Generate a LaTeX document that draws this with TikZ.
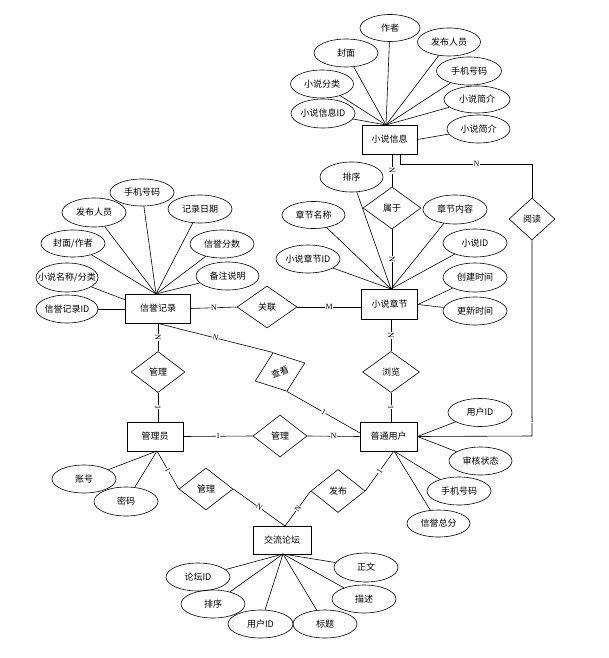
\documentclass[tikz,border=0pt]{standalone}
\usepackage{fontspec}
\setmainfont{Noto Sans CJK SC}
\newfontfamily\lblfont{Liberation Serif}
\usetikzlibrary{shapes.geometric}
\newcommand\zw[1]{\makebox[0pt]{#1}}
\begin{document}
\begin{tikzpicture}[x=1pt,y=-1pt,
  every node/.style={font=\fontsize{9}{10}\selectfont},
  ent/.style={draw,line width=0.9pt,rectangle,minimum height=29pt,inner sep=0pt},
  attr/.style={draw,line width=0.6pt,ellipse,minimum width=64pt,minimum height=28pt,inner sep=0pt},
  rel/.style={draw,line width=0.6pt,diamond,minimum width=56pt,minimum height=42pt,inner sep=0pt},
  conn/.style={line width=0.6pt},
  lbl/.style={font=\lblfont\fontsize{8}{8}\selectfont,fill=white,inner sep=0.3pt,sloped}
]
\useasboundingbox (0,0) rectangle (609,658);
% entities
\node[ent,minimum width=55pt] (xsxx) at (389.5,139.5) {\zw{小说信息}};
\node[ent,minimum width=56pt,minimum height=30pt] (xszj) at (389.5,304.5) {\zw{小说章节}};
\node[ent,minimum width=65pt] (xyjl) at (158,308.5) {\zw{信誉记录}};
\node[ent,minimum width=56pt] (gly) at (155,436.5) {\zw{管理员}};
\node[ent,minimum width=57pt] (ptyh) at (388.5,436.5) {\zw{普通用户}};
\node[ent,minimum width=58pt,minimum height=28pt] (jlt) at (282,540) {\zw{交流论坛}};
% relations
\node[rel,minimum width=58pt] (sy) at (392,208) {\zw{属于}};
\node[rel,minimum width=46pt] (yd) at (532,219) {\zw{阅读}};
\node[rel,minimum width=60pt] (gl) at (267,307) {\zw{关联}};
\node[rel,minimum width=57pt,minimum height=41pt] (ll) at (391,372) {\zw{浏览}};
\node[rel,minimum width=54pt,minimum height=41pt] (glA) at (158,372) {\zw{管理}};
\node[rel,minimum width=53pt,minimum height=41pt,rotate=20] (ck) at (280,372) {\zw{查看}};
\node[rel,minimum width=54pt] (glB) at (280,436) {\zw{管理}};
\node[rel,minimum width=54pt,minimum height=43pt] (fb) at (338,491) {\zw{发布}};
\node[rel,minimum width=54pt] (glC) at (206,489) {\zw{管理}};
% attributes of 小说信息
\node[attr,minimum width=60pt,minimum height=27pt] (a1) at (390,28) {\zw{作者}};
\node[attr,minimum width=63pt] (a2) at (449,42) {\zw{发布人员}};
\node[attr] (a3) at (346,53) {\zw{封面}};
\node[attr,minimum width=65pt] (a4) at (469,71) {\zw{手机号码}};
\node[attr,minimum width=63pt] (a5) at (322,84) {\zw{小说分类}};
\node[attr,minimum width=66pt,minimum height=27pt] (a6) at (477,99.5) {\zw{小说简介}};
\node[attr,minimum height=29pt] (a7) at (323,113.5) {\zw{小说信息ID}};
\node[attr,minimum width=63pt] (a8) at (478.5,129) {\zw{小说简介}};
\coordinate (c1) at (386,125);
\foreach \a in {a1,a2,a3,a4,a5,a6,a7} \draw[conn] (\a) -- (c1);
\draw[conn] (xsxx.east) -- (a8);
% attributes of 小说章节
\node[attr,minimum width=63pt,minimum height=30pt] (b1) at (351.5,177) {\zw{排序}};
\node[attr,minimum width=63pt,minimum height=27pt] (b2) at (313.5,215) {\zw{章节名称}};
\node[attr,minimum height=29pt] (b3) at (455,209.5) {\zw{章节内容}};
\node[attr] (b4) at (475,243) {\zw{小说ID}};
\node[attr] (b5) at (308,259) {\zw{小说章节ID}};
\node[attr,minimum height=29pt] (b6) at (475,277.5) {\zw{创建时间}};
\node[attr] (b7) at (475,311) {\zw{更新时间}};
\coordinate (c2) at (391,289);
\foreach \a in {b1,b2,b3,b4,b5} \draw[conn] (\a) -- (c2);
\foreach \a in {b6,b7} \draw[conn] (xszj.east) -- (\a);
% attributes of 信誉记录
\node[attr,minimum height=27pt] (d1) at (142,192.5) {\zw{手机号码}};
\node[attr,minimum height=29pt] (d2) at (94,212.5) {\zw{发布人员}};
\node[attr] (d3) at (200,209) {\zw{记录日期}};
\node[attr,minimum height=27pt] (d4) at (73,243.5) {\zw{封面/作者}};
\node[attr] (d5) at (222,244) {\zw{信誉分数}};
\node[attr,minimum width=62pt,minimum height=29pt] (d6) at (67,277.5) {\zw{小说名称/分类}};
\node[attr,minimum width=63pt] (d7) at (227.5,276) {\zw{备注说明}};
\node[attr,minimum width=62pt] (d8) at (67,309) {\zw{信誉记录ID}};
\coordinate (c3) at (156,294);
\coordinate (c3b) at (125.5,300);
\foreach \a in {d1,d2,d3,d4,d5,d7} \draw[conn] (\a) -- (c3);
\draw[conn] (d6) -- (c3b);
\draw[conn] (d8) -- (d8 -| xyjl.west);
% attributes of 普通用户
\node[attr] (e1) at (480,412.5) {\zw{用户ID}};
\node[attr,minimum width=63pt] (e2) at (480.5,461) {\zw{审核状态}};
\node[attr] (e3) at (459,491) {\zw{手机号码}};
\node[attr,minimum width=63pt,minimum height=27pt] (e4) at (438.5,523.5) {\zw{信誉总分}};
\coordinate (c4) at (394,451);
\foreach \a in {e1,e2} \draw[conn] (ptyh.east) -- (\a);
\foreach \a in {e3,e4} \draw[conn] (c4) -- (\a);
% attributes of 管理员
\node[attr] (f1) at (84,479) {\zw{账号}};
\node[attr,minimum height=29pt] (f2) at (126,501.5) {\zw{密码}};
\coordinate (c5) at (157,451);
\foreach \a in {f1,f2} \draw[conn] (c5) -- (\a);
% attributes of 交流论坛
\node[attr] (g1) at (198,577) {\zw{论坛ID}};
\node[attr,minimum height=29pt] (g2) at (366,567.5) {\zw{正文}};
\node[attr] (g3) at (213,604) {\zw{排序}};
\node[attr] (g4) at (364,599) {\zw{描述}};
\node[attr,minimum width=65pt] (g5) at (260.5,624) {\zw{用户ID}};
\node[attr] (g6) at (325,624) {\zw{标题}};
\coordinate (c7) at (283,554);
\foreach \a in {g1,g2,g3,g4,g5,g6} \draw[conn] (c7) -- (\a);
% relationships
\draw[conn] (xsxx.south -| sy.north) -- node[lbl]{N} (sy.north);
\draw[conn] (sy.south) -- node[lbl]{N} (xszj.north -| sy.south);
\coordinate (r1) at (400,164);
\coordinate (r2) at (532,164);
\coordinate (r3) at (532,436);
\draw[conn] (xsxx.south -| r1) -- (r1) -- node[lbl,pos=0.58]{N} (r2) -- (yd.north);
\draw[conn] (yd.south) -- node[lbl,sloped=false,pos=0.92]{1} (r3) -- (ptyh.east);
\draw[conn] (xyjl.east) -- node[lbl]{N} (gl.west);
\draw[conn] (gl.east) -- node[lbl]{M} (gl.east -| xszj.west);
\draw[conn] (xyjl.south -| glA.north) -- node[lbl]{N} (glA.north);
\draw[conn] (glA.south) -- node[lbl]{1} (gly.north -| glA.south);
\draw[conn] (xyjl.south) -- node[lbl]{N} (ck.north);
\coordinate (pu) at (360,433);
\draw[conn] (ck.south) -- node[lbl]{1} (pu);
\draw[conn] (gly.east) -- node[lbl,pos=0.5]{1} (glB.west);
\draw[conn] (glB.east) -- node[lbl]{N} (ptyh.west);
\draw[conn] (xszj.south -| ll.north) -- node[lbl]{N} (ll.north);
\draw[conn] (ll.south) -- node[lbl]{1} (ptyh.north -| ll.south);
\coordinate (c6) at (285,526);
\draw[conn] (c4) -- node[lbl]{1} (fb.east);
\draw[conn] (fb.west) -- node[lbl]{N} (c6);
\draw[conn] (c5) -- node[lbl]{1} (glC.west);
\draw[conn] (glC.east) -- node[lbl]{N} (c6);
\end{tikzpicture}
\end{document}
